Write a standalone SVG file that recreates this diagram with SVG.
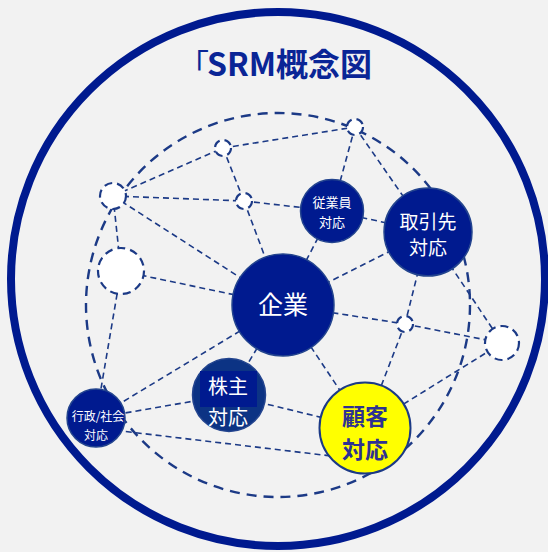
<svg xmlns="http://www.w3.org/2000/svg" width="548" height="552" viewBox="0 0 548 552">
<style>
.c{fill:none;stroke:#1c3a86;stroke-width:1.6;stroke-dasharray:6 4}
.big{fill:none;stroke:#1c3a86;stroke-width:2.4;stroke-dasharray:10 7}
.w{fill:#ffffff;stroke:#1c3a86;stroke-width:2.2;stroke-dasharray:8 5}
.n{fill:#001a8f;stroke:#23448e;stroke-width:1.5}
.t{font-family:"Noto Sans CJK JP","Noto Sans",sans-serif;fill:#ffffff;text-anchor:middle}
</style>
<rect width="548" height="552" fill="#f2f2f2"/>
<circle cx="278" cy="279" r="267" fill="none" stroke="#001a8f" stroke-width="8"/>
<text x="178" y="76" font-family="Noto Sans CJK JP, Noto Sans, sans-serif" font-size="31" fill="#0a2596">「<tspan x="207" font-weight="bold" font-size="32">SRM概念図</tspan></text>
<g id="connectors">
<circle class="big" cx="278" cy="305" r="192"/>
<line class="c" x1="113" y1="196" x2="223" y2="148"/>
<line class="c" x1="113" y1="196" x2="244" y2="201"/>
<line class="c" x1="113" y1="196" x2="283" y2="305"/>
<line class="c" x1="113" y1="196" x2="121" y2="271"/>
<line class="c" x1="223" y1="148" x2="355" y2="127"/>
<line class="c" x1="223" y1="148" x2="244" y2="201"/>
<line class="c" x1="244" y1="201" x2="332" y2="211"/>
<line class="c" x1="244" y1="201" x2="283" y2="305"/>
<line class="c" x1="355" y1="127" x2="332" y2="211"/>
<line class="c" x1="355" y1="127" x2="428" y2="232"/>
<line class="c" x1="332" y1="211" x2="428" y2="232"/>
<line class="c" x1="332" y1="211" x2="283" y2="305"/>
<line class="c" x1="428" y1="232" x2="283" y2="305"/>
<line class="c" x1="428" y1="232" x2="405" y2="324"/>
<line class="c" x1="428" y1="232" x2="502" y2="343"/>
<line class="c" x1="121" y1="271" x2="283" y2="305"/>
<line class="c" x1="283" y1="305" x2="405" y2="324"/>
<line class="c" x1="283" y1="305" x2="229" y2="395"/>
<line class="c" x1="283" y1="305" x2="96" y2="418"/>
<line class="c" x1="283" y1="305" x2="365" y2="428"/>
<line class="c" x1="405" y1="324" x2="502" y2="343"/>
<line class="c" x1="405" y1="324" x2="365" y2="428"/>
<line class="c" x1="502" y1="343" x2="365" y2="428"/>
<line class="c" x1="96" y1="418" x2="229" y2="395"/>
<line class="c" x1="96" y1="428" x2="365" y2="460"/>
<line class="c" x1="96" y1="418" x2="121" y2="271"/>
<line class="c" x1="229" y1="395" x2="365" y2="428"/>
</g>
<g id="w1"><circle class="w" cx="355" cy="127" r="8"/></g>
<g id="w2"><circle class="w" cx="223" cy="148" r="8"/></g>
<g id="w3"><circle class="w" cx="113" cy="196" r="13"/></g>
<g id="w4"><circle class="w" cx="244" cy="201" r="8"/></g>
<g id="w5"><circle class="w" cx="121" cy="271" r="23"/></g>
<g id="w6"><circle class="w" cx="405" cy="324" r="8"/></g>
<g id="w7"><circle class="w" cx="502" cy="343" r="17"/></g>
<g id="kigyo">
<circle class="n" cx="283" cy="305" r="51"/>
<text class="t" x="283" y="314" font-size="25">企業</text>
</g>
<g id="jugyoin">
<circle class="n" cx="332" cy="211" r="31.5"/>
<text class="t" x="332" y="207" font-size="13">従業員</text>
<text class="t" x="332" y="227" font-size="13">対応</text>
</g>
<g id="torihiki">
<circle class="n" cx="428" cy="232" r="44"/>
<text class="t" x="428" y="229" font-size="19">取引先</text>
<text class="t" x="428" y="255" font-size="19">対応</text>
</g>
<g id="kabunushi">
<circle cx="229" cy="395" r="36.5" fill="#0c3384" stroke="#23448e" stroke-width="1.5"/>
<rect x="200" y="371" width="57" height="36" fill="#001a8f"/>
<text class="t" x="228" y="394" font-size="20">株主</text>
<text class="t" x="228" y="425" font-size="20">対応</text>
</g>
<g id="gyosei">
<circle class="n" cx="96" cy="418" r="29"/>
<text class="t" x="98" y="421" font-size="12">行政/社会</text>
<text class="t" x="96" y="440" font-size="12">対応</text>
</g>
<g id="kokyaku">
<circle cx="365" cy="428" r="45.5" fill="#ffff00" stroke="#1c3a86" stroke-width="2"/>
<text x="365" y="425" font-family="Noto Sans CJK JP, Noto Sans, sans-serif" font-size="23" font-weight="bold" fill="#2e3192" text-anchor="middle">顧客</text>
<text x="365" y="458" font-family="Noto Sans CJK JP, Noto Sans, sans-serif" font-size="23" font-weight="bold" fill="#2e3192" text-anchor="middle">対応</text>
</g>
</svg>
